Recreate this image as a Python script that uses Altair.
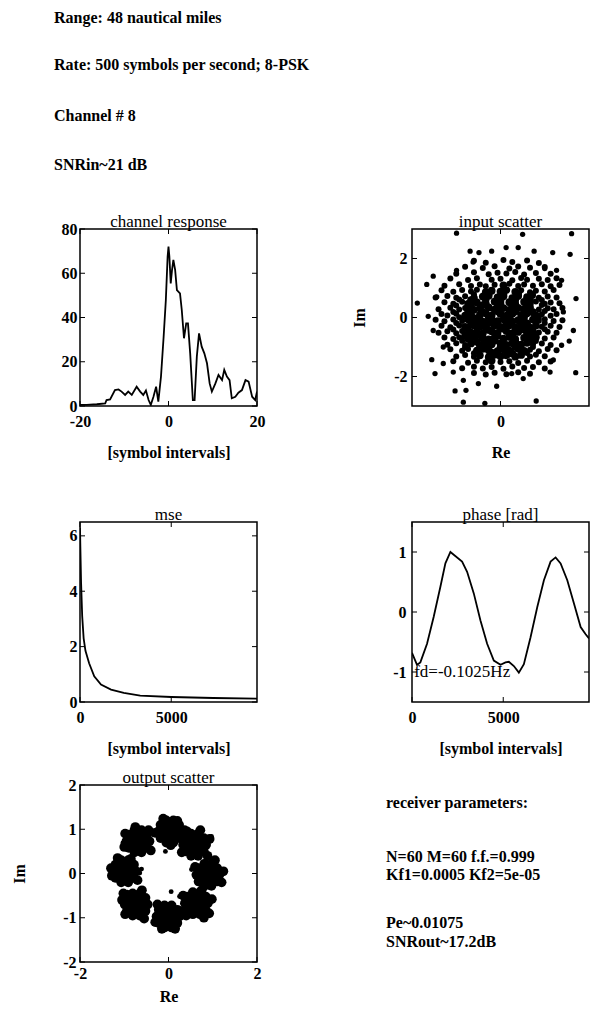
import altair as alt
import pandas as pd

FONT = "Liberation Serif"

HEADER_LINES = ["Range: 48 nautical miles", "Rate: 500 symbols per second; 8-PSK",
                "Channel # 8", "SNRin~21 dB"]
RECEIVER_LINES = ["receiver parameters:", "N=60 M=60 f.f.=0.999", "Kf1=0.0005 Kf2=5e-05",
                  "Pe~0.01075", "SNRout~17.2dB"]
FD_LABEL = "fd=-0.1025Hz"

# channel response
CR_X = [-20, -18.5, -16.2, -14.3, -14, -13.2, -12.1, -11.3, -10.6, -9.8, -9.1, -8.3, -7.2, -6.4,
        -5.7, -5.1, -4.5, -4, -3.4, -2.8, -2.3, -1.7, -1.1, -0.6, -0.2, 0, 0.2, 0.5, 0.8, 1.1,
        1.5, 1.9, 2.6, 3.0, 3.5, 4.0, 4.4, 4.9, 5.5, 5.9, 6.4, 6.9, 7.5, 8.1, 8.7, 9.3, 9.8,
        10.6, 11.3, 12.1, 12.6, 13.2, 13.8, 14.3, 15.1, 15.8, 16.6, 17.4, 18.1, 18.9, 19.6, 20]
CR_Y = [0.5, 0.5, 0.8, 1.2, 2.7, 3, 7.2, 7.5, 6.5, 5, 6.5, 5, 8.7, 6.5, 5, 7, 2.7, 0.5, 4.2, 8.7,
        2, 13.3, 31.3, 47.9, 67.5, 72, 67.5, 55.4, 61.5, 66, 61.5, 52.4, 50.9, 43.4, 30.6, 37.3,
        37.3, 23.8, 2.7, 2.7, 22.3, 32.8, 26.8, 23.8, 19.3, 10.2, 6.5, 10.2, 14, 11.7, 16.3, 13.3,
        11.7, 3.5, 4.2, 6, 7.2, 11.7, 11, 4.2, 2.7, 6.5]

# mse
MSE_X = [0, 20, 60, 120, 200, 300, 500, 780, 1150, 1700, 2400, 3300, 5000, 7300, 9700]
MSE_Y = [6.3, 5.6, 4.3, 3.1, 2.3, 1.85, 1.4, 0.93, 0.63, 0.45, 0.33, 0.23, 0.18, 0.145, 0.12]

# phase
PH_X = [0, 275, 458, 824, 1190, 1556, 1830, 2105, 2288, 2745, 3020, 3386, 3752, 4118, 4484, 4850,
        5124, 5307, 5582, 5856, 6131, 6497, 6863, 7229, 7595, 7870, 8144, 8510, 8876, 9242, 9516, 9700]
PH_Y = [-0.68, -0.88, -0.84, -0.53, -0.08, 0.42, 0.81, 1.0, 0.955, 0.84, 0.67, 0.31, -0.14, -0.53,
        -0.81, -0.88, -0.84, -0.83, -0.90, -1.01, -0.87, -0.42, 0.08, 0.53, 0.84, 0.91, 0.81, 0.53,
        0.14, -0.25, -0.37, -0.44]

# input scatter: sparse outer points
IN_OUTER = [(-1.49, 2.86), (0.75, 2.82), (2.41, 2.84), (-1.03, 2.25), (-0.73, 2.20), (-0.30, 2.25),
            (0.19, 2.37), (0.60, 2.37), (1.14, 2.25), (1.77, 2.20), (2.36, 2.14), (-2.28, 1.40),
            (-2.50, 1.12), (-2.82, 0.49), (2.56, 0.64), (-2.45, 0.04), (2.47, -0.44), (2.33, -0.80),
            (-2.33, -1.43), (-2.22, -1.90), (2.55, -1.87), (-1.60, -1.85), (-1.26, -2.13),
            (-1.54, -2.49), (-1.17, -2.47), (-0.75, -2.24), (-0.13, -2.33), (-1.26, -2.87),
            (-0.53, -2.91), (1.21, -2.83), (0.38, -1.90), (0.77, -2.07), (1.79, -1.44),
            (2.07, -0.94), (2.13, 0.19), (2.07, 1.26), (1.90, 1.60), (1.50, 1.66), (-2.16, 0.70),
            (-2.28, -0.44), (-1.94, -1.0), (-1.94, -1.56), (1.68, -1.85), (-1.49, 1.60), (-0.93, 1.88)]
# input scatter: dense cloud
IN_CLOUD = [
    (-0.9, 1.92), (-0.5, 1.86), (0.1, 1.95), (0.4, 1.88), (0.9, 1.93), (1.3, 1.85),
    (-1.2, 1.72), (-0.6, 1.68), (-0.2, 1.74), (0.3, 1.66), (0.6, 1.73), (1.0, 1.69), (1.5, 1.71),
    (-1.5, 1.48), (-0.9, 1.53), (-0.4, 1.47), (-0.1, 1.52), (0.2, 1.49), (0.5, 1.54), (0.8, 1.46),
    (1.2, 1.51), (1.7, 1.48),
    (-1.7, 1.32), (-1.1, 1.27), (-0.8, 1.33), (-0.3, 1.28), (0.0, 1.31), (0.4, 1.26), (0.7, 1.34),
    (0.9, 1.28), (1.3, 1.31), (1.6, 1.27), (1.9, 1.33),
    (-1.9, 1.08), (-1.4, 1.13), (-1.0, 1.07), (-0.7, 1.12), (-0.5, 1.06), (-0.2, 1.11), (0.1, 1.09),
    (0.3, 1.14), (0.6, 1.07), (0.8, 1.12), (1.1, 1.08), (1.4, 1.13), (1.7, 1.06), (2.0, 1.1),
    (-2.0, 0.92), (-1.6, 0.87), (-1.3, 0.93), (-1.0, 0.88), (-0.8, 0.94), (-0.5, 0.86), (-0.3, 0.91),
    (0.0, 0.88), (0.2, 0.93), (0.5, 0.87), (0.7, 0.92), (1.0, 0.86), (1.2, 0.91), (1.5, 0.88), (1.8, 0.93),
    (-2.2, 0.68), (-1.8, 0.73), (-1.5, 0.67), (-1.2, 0.72), (-0.9, 0.66), (-0.6, 0.71), (-0.4, 0.74),
    (-0.1, 0.68), (0.1, 0.72), (0.4, 0.66), (0.6, 0.73), (0.9, 0.69), (1.1, 0.74), (1.3, 0.67),
    (1.6, 0.71), (1.9, 0.68),
    (-1.9, 0.52), (-1.6, 0.47), (-1.3, 0.53), (-1.1, 0.46), (-0.8, 0.51), (-0.5, 0.48), (-0.2, 0.54),
    (0.0, 0.47), (0.3, 0.52), (0.5, 0.46), (0.8, 0.53), (1.0, 0.49), (1.2, 0.54), (1.5, 0.47),
    (1.7, 0.51), (2.0, 0.48),
    (-2.1, 0.28), (-1.7, 0.33), (-1.4, 0.27), (-1.2, 0.32), (-0.9, 0.26), (-0.7, 0.31), (-0.4, 0.34),
    (-0.2, 0.27), (0.1, 0.32), (0.3, 0.26), (0.6, 0.33), (0.8, 0.29), (1.0, 0.34), (1.3, 0.27),
    (1.6, 0.31), (1.8, 0.28), (2.1, 0.32),
    (-2.0, 0.12), (-1.8, 0.07), (-1.5, 0.13), (-1.2, 0.06), (-1.0, 0.11), (-0.7, 0.08), (-0.5, 0.14),
    (-0.3, 0.07), (0.0, 0.12), (0.2, 0.06), (0.4, 0.13), (0.7, 0.09), (0.9, 0.14), (1.2, 0.07),
    (1.4, 0.11), (1.7, 0.06), (1.9, 0.12),
    (-2.2, -0.08), (-1.9, -0.13), (-1.6, -0.07), (-1.3, -0.12), (-1.1, -0.06), (-0.8, -0.11),
    (-0.6, -0.14), (-0.3, -0.08), (-0.1, -0.12), (0.1, -0.06), (0.4, -0.13), (0.6, -0.09),
    (0.8, -0.14), (1.1, -0.07), (1.3, -0.11), (1.5, -0.06), (1.8, -0.12), (2.1, -0.09),
    (-2.0, -0.28), (-1.7, -0.33), (-1.4, -0.27), (-1.2, -0.32), (-0.9, -0.26), (-0.7, -0.31),
    (-0.5, -0.34), (-0.2, -0.27), (0.0, -0.32), (0.3, -0.26), (0.5, -0.33), (0.7, -0.29),
    (1.0, -0.34), (1.2, -0.27), (1.4, -0.31), (1.7, -0.28), (2.0, -0.32),
    (-2.1, -0.52), (-1.8, -0.47), (-1.5, -0.53), (-1.3, -0.46), (-1.0, -0.51), (-0.8, -0.48),
    (-0.6, -0.54), (-0.3, -0.47), (-0.1, -0.52), (0.2, -0.46), (0.4, -0.53), (0.6, -0.49),
    (0.9, -0.54), (1.1, -0.47), (1.3, -0.51), (1.6, -0.48), (1.9, -0.52),
    (-1.9, -0.68), (-1.6, -0.73), (-1.4, -0.67), (-1.1, -0.72), (-0.9, -0.66), (-0.6, -0.71),
    (-0.4, -0.74), (-0.2, -0.68), (0.1, -0.72), (0.3, -0.66), (0.5, -0.73), (0.8, -0.69),
    (1.0, -0.74), (1.2, -0.67), (1.5, -0.71), (1.8, -0.68),
    (-1.8, -0.92), (-1.5, -0.87), (-1.2, -0.93), (-1.0, -0.88), (-0.7, -0.94), (-0.5, -0.86),
    (-0.3, -0.91), (0.0, -0.88), (0.2, -0.93), (0.4, -0.87), (0.7, -0.92), (0.9, -0.86),
    (1.1, -0.91), (1.4, -0.88), (1.7, -0.93),
    (-1.7, -1.08), (-1.3, -1.13), (-1.1, -1.07), (-0.8, -1.12), (-0.6, -1.06), (-0.4, -1.11),
    (-0.1, -1.14), (0.1, -1.08), (0.3, -1.12), (0.6, -1.06), (0.8, -1.13), (1.0, -1.09),
    (1.3, -1.14), (1.6, -1.07), (1.9, -1.11),
    (-1.5, -1.32), (-1.2, -1.27), (-0.9, -1.33), (-0.7, -1.28), (-0.4, -1.34), (-0.2, -1.26),
    (0.0, -1.31), (0.2, -1.28), (0.5, -1.33), (0.7, -1.27), (1.0, -1.32), (1.2, -1.26), (1.5, -1.31),
    (-1.6, -1.48), (-1.1, -1.53), (-0.8, -1.47), (-0.5, -1.52), (-0.3, -1.46), (0.0, -1.51),
    (0.3, -1.48), (0.6, -1.54), (0.9, -1.47), (1.3, -1.52), (1.7, -1.49),
    (-1.3, -1.72), (-0.9, -1.67), (-0.6, -1.73), (-0.3, -1.68), (0.1, -1.74), (0.4, -1.66),
    (0.8, -1.71), (1.1, -1.68), (1.5, -1.73),
    (-0.9, -1.88), (-0.5, -1.93), (-0.2, -1.87), (0.2, -1.92), (0.6, -1.86), (1.0, -1.91),
    (-0.9, 0.79), (-0.4, 0.81), (0.1, 0.78), (0.6, 0.82), (1.1, 0.8),
    (-1.4, 0.61), (-1.0, 0.59), (-0.5, 0.62), (0.0, 0.58), (0.5, 0.6), (1.0, 0.61), (1.4, 0.59),
    (-1.5, 0.41), (-1.0, 0.39), (-0.6, 0.42), (-0.1, 0.38), (0.4, 0.41), (0.9, 0.4), (1.4, 0.42),
    (-1.6, 0.19), (-1.1, 0.22), (-0.6, 0.18), (-0.1, 0.21), (0.5, 0.2), (1.1, 0.18), (1.5, 0.22),
    (-1.4, 0.01), (-0.9, -0.02), (-0.4, 0.02), (0.3, -0.01), (0.8, 0.02), (1.3, -0.02),
    (-1.5, -0.19), (-1.0, -0.22), (-0.4, -0.18), (0.2, -0.21), (0.9, -0.2), (1.5, -0.19),
    (-1.6, -0.41), (-1.1, -0.39), (-0.4, -0.42), (0.1, -0.38), (0.8, -0.41), (1.5, -0.4),
    (-1.2, -0.61), (-0.7, -0.59), (-0.1, -0.62), (0.4, -0.58), (1.1, -0.6),
    (-1.3, -0.79), (-0.8, -0.82), (-0.2, -0.78), (0.5, -0.81), (1.2, -0.8),
    (-1.2, -1.01), (-0.5, -0.99), (0.0, -1.02), (0.5, -0.98), (1.1, -1.0),
    (-0.9, -1.21), (-0.3, -1.19), (0.4, -1.22), (0.9, -1.2),
]

# output scatter: eight clusters and a few stray points
OUT_T = [(0.03, 0.95), (0.16, 0.95), (0.10, 1.06), (-0.04, 1.06), (-0.10, 0.95), (-0.04, 0.84),
         (0.10, 0.84), (0.29, 0.95), (0.24, 1.10), (0.11, 1.20), (-0.05, 1.20), (-0.18, 1.10),
         (-0.23, 0.95), (-0.18, 0.80), (-0.05, 0.70), (0.11, 0.70), (0.24, 0.80), (-0.12, 1.24),
         (0.20, 1.19), (0.36, 0.98), (-0.30, 0.92), (0.05, 0.64)]
OUT_TR = [(0.59, 0.65), (0.72, 0.65), (0.66, 0.76), (0.52, 0.76), (0.46, 0.65), (0.52, 0.54),
          (0.66, 0.54), (0.85, 0.65), (0.80, 0.80), (0.67, 0.90), (0.51, 0.90), (0.38, 0.80),
          (0.33, 0.65), (0.38, 0.50), (0.51, 0.40), (0.67, 0.40), (0.80, 0.50), (0.72, 0.98),
          (0.93, 0.78), (0.88, 0.40), (0.42, 0.95), (0.30, 0.48)]
OUT_R = [(0.89, -0.03), (1.02, -0.03), (0.96, 0.08), (0.82, 0.08), (0.76, -0.03), (0.82, -0.14),
         (0.96, -0.14), (1.15, -0.03), (1.10, 0.12), (0.97, 0.22), (0.81, 0.22), (0.68, 0.12),
         (0.63, -0.03), (0.68, -0.18), (0.81, -0.28), (0.97, -0.28), (1.10, -0.18), (1.24, 0.05),
         (1.20, -0.20), (0.60, 0.15), (0.75, -0.38), (1.05, 0.30)]
OUT_BR = [(0.63, -0.67), (0.76, -0.67), (0.70, -0.56), (0.56, -0.56), (0.50, -0.67), (0.56, -0.78),
          (0.70, -0.78), (0.89, -0.67), (0.84, -0.52), (0.71, -0.42), (0.55, -0.42), (0.42, -0.52),
          (0.37, -0.67), (0.42, -0.82), (0.55, -0.92), (0.71, -0.92), (0.84, -0.82), (0.98, -0.58),
          (0.92, -0.90), (0.33, -0.50), (0.40, -0.95), (0.80, -1.00)]
OUT_B = [(-0.01, -0.97), (0.12, -0.97), (0.06, -0.86), (-0.08, -0.86), (-0.14, -0.97), (-0.08, -1.08),
         (0.06, -1.08), (0.25, -0.97), (0.20, -0.82), (0.07, -0.72), (-0.09, -0.72), (-0.22, -0.82),
         (-0.27, -0.97), (-0.22, -1.12), (-0.09, -1.22), (0.07, -1.22), (0.20, -1.12), (0.15, -1.25),
         (-0.30, -1.10), (0.30, -0.85), (-0.25, -0.70), (-0.15, -1.25)]
OUT_BL = [(-0.73, -0.70), (-0.60, -0.70), (-0.66, -0.59), (-0.80, -0.59), (-0.86, -0.70),
          (-0.80, -0.81), (-0.66, -0.81), (-0.47, -0.70), (-0.52, -0.55), (-0.65, -0.45),
          (-0.81, -0.45), (-0.94, -0.55), (-0.99, -0.70), (-0.94, -0.85), (-0.81, -0.95),
          (-0.65, -0.95), (-0.52, -0.85), (-1.05, -0.60), (-0.98, -0.92), (-0.55, -1.02),
          (-0.60, -0.38), (-1.02, -0.45)]
OUT_L = [(-0.99, 0.05), (-0.86, 0.05), (-0.92, 0.16), (-1.06, 0.16), (-1.12, 0.05), (-1.06, -0.06),
         (-0.92, -0.06), (-0.73, 0.05), (-0.78, 0.20), (-0.91, 0.30), (-1.07, 0.30), (-1.20, 0.20),
         (-1.25, 0.05), (-1.20, -0.10), (-1.07, -0.20), (-0.91, -0.20), (-0.78, -0.10), (-1.30, 0.12),
         (-1.28, -0.05), (-0.85, 0.33), (-0.70, -0.15), (-1.15, 0.35)]
OUT_TL = [(-0.69, 0.73), (-0.56, 0.73), (-0.62, 0.84), (-0.76, 0.84), (-0.82, 0.73), (-0.76, 0.62),
          (-0.62, 0.62), (-0.43, 0.73), (-0.48, 0.88), (-0.61, 0.98), (-0.77, 0.98), (-0.90, 0.88),
          (-0.95, 0.73), (-0.90, 0.58), (-0.77, 0.48), (-0.61, 0.48), (-0.48, 0.58), (-0.98, 0.90),
          (-0.45, 0.98), (-1.00, 0.60), (-0.40, 0.52), (-0.75, 1.05)]
OUT_STRAY = [(-0.07, 0.50), (0.06, -0.41), (-0.61, 0.10), (-0.65, 0.01), (-0.93, -0.42), (0.52, 0.09),
             (0.25, -0.52), (0.84, 0.30), (-1.03, 0.69), (-1.33, 0.12), (0.97, 0.84)]

W = 177
TICK = 5
AXIS_STYLE = dict(ticks=False, tickSize=0, domain=False, grid=False, labelFlush=False,
                  labelExpr="'' + datum.value")

# the dense middle of the input cloud is drawn with larger dots (pure styling split)
IN_CORE = [p for p in IN_CLOUD if p[0] ** 2 + (p[1] + 0.2) ** 2 < 1.3 ** 2]
IN_RIM = [p for p in IN_CLOUD if p[0] ** 2 + (p[1] + 0.2) ** 2 >= 1.3 ** 2]


def inner_ticks(xticks, yticks, xs, ys, xa, ya, h):
    tx = alt.Chart(pd.DataFrame({"x": xticks})).mark_rule(color="black", strokeWidth=1)
    ty = alt.Chart(pd.DataFrame({"y": yticks})).mark_rule(color="black", strokeWidth=1)
    return [
        tx.encode(x=alt.X("x:Q", axis=xa, scale=xs), y=alt.value(h), y2=alt.value(h - TICK)),
        tx.encode(x=alt.X("x:Q", axis=xa, scale=xs), y=alt.value(0), y2=alt.value(TICK)),
        ty.encode(y=alt.Y("y:Q", axis=ya, scale=ys), x=alt.value(0), x2=alt.value(TICK)),
        ty.encode(y=alt.Y("y:Q", axis=ya, scale=ys), x=alt.value(W), x2=alt.value(W - TICK)),
    ]


def panel(main_layers, xvals, yvals, xdom, ydom, h, title, title_dy, xtitle, ytitle,
          xlabpad=7, xtitlepad=15, ylabpad=4, ytitlepad=26):
    xs = alt.Scale(domain=xdom, nice=False, zero=False)
    ys = alt.Scale(domain=ydom, nice=False, zero=False)
    xa = alt.Axis(values=xvals, title=xtitle, labelPadding=xlabpad, titlePadding=xtitlepad, **AXIS_STYLE)
    ya = alt.Axis(values=yvals, title=ytitle, labelPadding=ylabpad, titlePadding=ytitlepad, **AXIS_STYLE)
    layers = [m(xs, ys, xa, ya) for m in main_layers]
    layers += inner_ticks(xvals, yvals, xs, ys, xa, ya, h)
    return alt.layer(*layers).properties(width=W, height=h,
                                         title=alt.TitleParams(text=title, dy=title_dy))


def line_layer(xv, yv):
    df = pd.DataFrame({"x": xv, "y": yv})

    def build(xs, ys, xa, ya):
        return alt.Chart(df).mark_line(color="black", strokeWidth=1.8, clip=True).encode(
            x=alt.X("x:Q", scale=xs, axis=xa), y=alt.Y("y:Q", scale=ys, axis=ya))
    return build


def point_layer(pts, size):
    df = pd.DataFrame({"x": [p[0] for p in pts], "y": [p[1] for p in pts]})

    def build(xs, ys, xa, ya):
        return alt.Chart(df).mark_circle(color="black", opacity=1, size=size, clip=True).encode(
            x=alt.X("x:Q", scale=xs, axis=xa), y=alt.Y("y:Q", scale=ys, axis=ya))
    return build


def fd_layer(xs, ys, xa, ya):
    df = pd.DataFrame({"x": [120], "y": [-1.0], "t": [FD_LABEL]})
    return alt.Chart(df).mark_text(font=FONT, fontSize=17, align="left", baseline="middle",
                                   color="black").encode(
        x=alt.X("x:Q", scale=xs, axis=xa), y=alt.Y("y:Q", scale=ys, axis=ya), text="t:N")


def text_cell(lines, ypos, h, xoff=-26, size=16):
    layers = []
    for line, yv in zip(lines, ypos):
        layers.append(
            alt.Chart(pd.DataFrame({"t": [line]})).mark_text(
                font=FONT, fontSize=size, fontWeight="bold", align="left", baseline="middle",
                color="black").encode(text="t:N", x=alt.value(xoff), y=alt.value(yv))
        )
    return alt.layer(*layers).properties(width=W, height=h, view=alt.ViewBackground(stroke="transparent"))


def spacer(h):
    return alt.Chart(pd.DataFrame({"a": [0]})).mark_point(opacity=0).encode(
        x=alt.value(0), y=alt.value(0)).properties(
        width=W, height=h, view=alt.ViewBackground(stroke="transparent"))


header = text_cell(HEADER_LINES, [10, 57, 108, 157], 221)
blank = spacer(221)

cr = panel([line_layer(CR_X, CR_Y)], [-20, 0, 20], [0, 20, 40, 60, 80], [-20, 20], [0, 80], 177,
           "channel response", 11, "[symbol intervals]", None, ylabpad=3)
inp = panel([point_layer(IN_OUTER, 28), point_layer(IN_RIM, 36), point_layer(IN_CORE, 60)],
            [0], [-2, 0, 2], [-3, 3], [-3, 3], 177,
            "input scatter", 3, "Re", "Im", ylabpad=5, ytitlepad=26)
mse = panel([line_layer(MSE_X, MSE_Y)], [0, 5000], [0, 2, 4, 6], [0, 9700], [0, 6.5], 180,
            "mse", 3, "[symbol intervals]", None, ylabpad=3)
ph = panel([line_layer(PH_X, PH_Y), fd_layer], [0, 5000], [-1, 0, 1], [0, 9700], [-1.5, 1.5], 180,
           "phase [rad]", 3, "[symbol intervals]", None, ylabpad=6)
outp = panel([point_layer(OUT_T + OUT_TR + OUT_R + OUT_BR + OUT_B + OUT_BL + OUT_L + OUT_TL, 95),
              point_layer(OUT_STRAY, 24)],
             [-2, 0, 2], [-2, -1, 0, 1, 2], [-2, 2], [-2, 2], 177,
             "output scatter", 11, "Re", "Im", xlabpad=3, xtitlepad=7, ylabpad=4, ytitlepad=35)
recv = text_cell(RECEIVER_LINES, [18, 72, 90, 138, 157], 177)

chart = alt.concat(
    header, blank,
    cr, inp,
    spacer(116), spacer(116),
    mse, ph,
    spacer(83), spacer(83),
    outp, recv,
    columns=2, spacing={"row": 0, "column": 155}, bounds="flush",
).properties(
    padding={"left": 2, "top": -4, "right": 0, "bottom": 0},
    background="white",
).configure_view(
    stroke="black", strokeWidth=1.5
).configure_axis(
    labelFont=FONT, labelFontSize=16, labelFontWeight="bold", labelColor="black",
    titleFont=FONT, titleFontSize=16, titleFontWeight="bold", titleColor="black",
).configure_title(
    font=FONT, fontSize=17, fontWeight="normal", color="black", offset=1,
)

chart.save("out.html", embed_options={"renderer": "svg", "actions": False})
